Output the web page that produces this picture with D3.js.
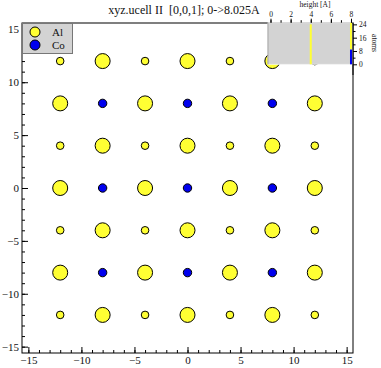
<!DOCTYPE html>
<html>
<head>
<meta charset="utf-8">
<script src="https://cdn.jsdelivr.net/npm/d3@7"></script>
<style>
  body { margin: 0; background: #fff; }
  svg text { font-family: "Liberation Serif", "DejaVu Serif", serif; fill: #111; white-space: pre; }
</style>
</head>
<body>
<div id="chart"></div>
<script>
// ---- data ----
var title = "xyz.ucell II  [0,0,1]; 0->8.025A";
var species = ["Al", "Co"];
var colX = [-12, -8, -4, 0, 4, 8, 12];
var rowY = [12, 8, 4, 0, -4, -8, -12];
// species at each site, row by row (top to bottom), left to right
var siteType = [
    ["Al", "Al", "Al", "Al", "Al", "Al", "Al"],
    ["Al", "Co", "Al", "Co", "Al", "Co", "Al"],
    ["Al", "Al", "Al", "Al", "Al", "Al", "Al"],
    ["Al", "Co", "Al", "Co", "Al", "Co", "Al"],
    ["Al", "Al", "Al", "Al", "Al", "Al", "Al"],
    ["Al", "Co", "Al", "Co", "Al", "Co", "Al"],
    ["Al", "Al", "Al", "Al", "Al", "Al", "Al"]
];
// height (z, in A) of each site
var siteZ = [
    [8, 4, 8, 4, 8, 4, 8],
    [4, 8, 4, 8, 4, 8, 4],
    [8, 4, 8, 4, 8, 4, 8],
    [4, 8, 4, 8, 4, 8, 4],
    [8, 4, 8, 4, 8, 4, 8],
    [4, 8, 4, 8, 4, 8, 4],
    [8, 4, 8, 4, 8, 4, 8]
];
var xTicks = [-15, -10, -5, 0, 5, 10, 15];
var yTicks = [-15, -10, -5, 0, 5, 10, 15];
var hTicks = [0, 2, 4, 6, 8];
var nTicks = [0, 8, 16, 24];

(function () {
    'use strict';

    var W = 381, H = 368;
    var colors = { Al: "#ffff33", Co: "#0000ee" };
    var radius = { "Al4": 7.5, "Al8": 3.8, "Co8": 4.2 };

    var atoms = [];
    rowY.forEach(function (y, r) {
        colX.forEach(function (x, c) {
            atoms.push({ x: x, y: y, z: siteZ[r][c], type: siteType[r][c] });
        });
    });

    var svg = d3.select("#chart").append("svg")
        .attr("width", W).attr("height", H);

    var x = d3.scaleLinear().domain([-15.6, 15.6]).range([22, 353]);
    var y = d3.scaleLinear().domain([-15.6, 15.6]).range([353, 23]);

    // title
    svg.append("text")
        .attr("x", 184).attr("y", 14)
        .attr("text-anchor", "middle")
        .style("font-size", "12px")
        .text(title);

    // atoms
    svg.append("g").selectAll("circle")
        .data(atoms)
        .enter().append("circle")
        .attr("cx", function (d) { return x(d.x); })
        .attr("cy", function (d) { return y(d.y); })
        .attr("r", function (d) { return radius[d.type + d.z]; })
        .attr("fill", function (d) { return colors[d.type]; })
        .attr("stroke", "#000")
        .attr("stroke-width", 1);

    // frame
    svg.append("rect")
        .attr("x", x.range()[0]).attr("y", y.range()[1])
        .attr("width", x.range()[1] - x.range()[0])
        .attr("height", y.range()[0] - y.range()[1])
        .attr("fill", "none").attr("stroke", "#000").attr("stroke-width", 1);

    // axes: minor ticks every 1, major every 5, pointing inward
    var styleAxis = function (g) {
        g.select(".domain").remove();
        g.selectAll("line").attr("stroke", "#000");
        g.selectAll("text").style("font-size", "11px")
            .style("font-family", "'Liberation Serif', serif");
    };
    svg.append("g").attr("transform", "translate(0," + y.range()[0] + ")")
        .call(d3.axisBottom(x).tickValues(d3.range(-15, 16)).tickSize(-3).tickFormat(""))
        .call(styleAxis);
    svg.append("g").attr("transform", "translate(0," + y.range()[0] + ")")
        .call(d3.axisBottom(x).tickValues(xTicks).tickSize(-6).tickPadding(3))
        .call(styleAxis);
    svg.append("g").attr("transform", "translate(" + x.range()[0] + ",0)")
        .call(d3.axisLeft(y).tickValues(d3.range(-15, 16)).tickSize(-3).tickFormat(""))
        .call(styleAxis);
    svg.append("g").attr("transform", "translate(" + x.range()[0] + ",0)")
        .call(d3.axisLeft(y).tickValues(yTicks).tickSize(-6).tickPadding(3))
        .call(styleAxis);

    // legend
    var legend = svg.append("g");
    legend.append("rect")
        .attr("x", 22.5).attr("y", 23.5).attr("width", 50).attr("height", 30)
        .attr("fill", "#d3d3d3").attr("stroke", "#777");
    species.forEach(function (s, i) {
        legend.append("circle")
            .attr("cx", 35).attr("cy", 32 + i * 13).attr("r", 5)
            .attr("fill", colors[s]).attr("stroke", "#000");
        legend.append("text")
            .attr("x", 52).attr("y", 36 + i * 13)
            .style("font-size", "11px")
            .text(s);
    });

    // height histogram inset
    var hx = d3.scaleLinear().domain([-0.25, 8.1]).range([268, 352]);
    var hy = d3.scaleLinear().domain([0, 25]).range([64.3, 22.7]);
    var counts = d3.rollup(atoms, function (v) { return v.length; },
        function (d) { return d.z; }, function (d) { return d.type; });
    var bars = [];
    Array.from(counts.keys()).sort(d3.ascending).forEach(function (z) {
        var base = 0;
        ["Co", "Al"].forEach(function (s) {
            var n = counts.get(z).get(s) || 0;
            if (n > 0) {
                bars.push({ z: z, type: s, y0: base, y1: base + n });
                base += n;
            }
        });
    });

    var inset = svg.append("g");
    inset.append("rect")
        .attr("x", hx.range()[0]).attr("y", hy.range()[1])
        .attr("width", hx.range()[1] - hx.range()[0])
        .attr("height", hy.range()[0] - hy.range()[1])
        .attr("fill", "#d3d3d3").attr("stroke", "#f4f4f4").attr("stroke-width", 0.8);
    inset.append("line")
        .attr("x1", hx.range()[0]).attr("x2", hx.range()[0])
        .attr("y1", hy.range()[1]).attr("y2", hy.range()[0])
        .attr("stroke", "#999");
    inset.selectAll(".bar").data(bars)
        .enter().append("rect")
        .attr("class", "bar")
        .attr("x", function (d) { return hx(d.z) - 1; })
        .attr("width", 2)
        .attr("y", function (d) { return hy(Math.min(d.y1, 25)); })
        .attr("height", function (d) { return hy(d.y0) - hy(Math.min(d.y1, 25)); })
        .attr("fill", function (d) { return colors[d.type]; });

    var styleSmall = function (g) {
        g.select(".domain").remove();
        g.selectAll("line").attr("stroke", "#000");
        g.selectAll("text").style("font-size", "7.5px")
            .style("font-family", "'Liberation Serif', serif");
    };
    inset.append("g").attr("transform", "translate(0," + hy.range()[1] + ")")
        .call(d3.axisTop(hx).tickValues(d3.range(0, 9)).tickSize(2.5).tickFormat(""))
        .call(styleSmall);
    inset.append("g").attr("transform", "translate(0," + hy.range()[1] + ")")
        .call(d3.axisTop(hx).tickValues(hTicks).tickSize(4).tickPadding(2))
        .call(styleSmall);
    inset.append("text")
        .attr("x", 315).attr("y", 7)
        .attr("text-anchor", "middle")
        .style("font-size", "7.5px")
        .text("height [A]");

    var ax = 353;
    inset.append("line")
        .attr("x1", ax).attr("x2", ax)
        .attr("y1", hy.range()[1]).attr("y2", 75)
        .attr("stroke", "#000");
    inset.append("g").attr("transform", "translate(" + ax + ",0)")
        .call(d3.axisRight(hy).tickValues([4, 12, 20]).tickSize(2.5).tickFormat(""))
        .call(styleSmall);
    inset.append("g").attr("transform", "translate(" + ax + ",0)")
        .call(d3.axisRight(hy).tickValues(nTicks).tickSize(4).tickPadding(2))
        .call(styleSmall);
    inset.append("text")
        .attr("transform", "translate(372,43) rotate(90)")
        .attr("text-anchor", "middle")
        .style("font-size", "7.5px")
        .text("atoms");
}());
</script>
</body>
</html>
